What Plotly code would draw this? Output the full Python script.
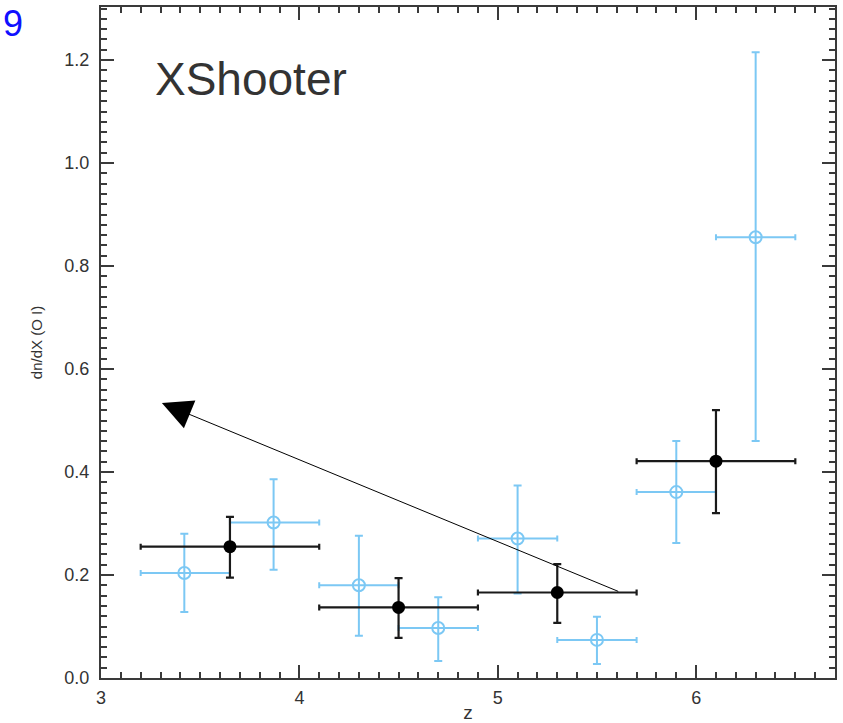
import plotly.graph_objects as go

# Binned measurements (filled black): redshift bin centres, bin edges, dn/dX and its 1-sigma range
bin_z = [3.65, 4.5, 5.3, 6.1]
bin_z_lo = [3.2, 4.1, 4.9, 5.7]
bin_z_hi = [4.1, 4.9, 5.7, 6.5]
bin_dndx = [0.255, 0.137, 0.166, 0.421]
bin_dndx_hi = [0.313, 0.194, 0.221, 0.520]
bin_dndx_lo = [0.195, 0.078, 0.107, 0.320]

# Finer bins (open light-blue circles)
fine_z = [3.42, 3.87, 4.3, 4.7, 5.1, 5.5, 5.9, 6.3]
fine_z_lo = [3.2, 3.65, 4.1, 4.5, 4.9, 5.3, 5.7, 6.1]
fine_z_hi = [3.65, 4.1, 4.5, 4.9, 5.3, 5.7, 6.1, 6.5]
fine_dndx = [0.204, 0.302, 0.180, 0.097, 0.271, 0.074, 0.361, 0.856]
fine_dndx_hi = [0.280, 0.386, 0.276, 0.157, 0.374, 0.119, 0.460, 1.215]
fine_dndx_lo = [0.128, 0.210, 0.082, 0.033, 0.164, 0.027, 0.262, 0.460]

# Arrow (tail -> head) in data coordinates
arrow_tail = (5.615, 0.167)
arrow_head = (3.307, 0.534)

x_ticks = [3, 4, 5, 6]
y_ticks = [0.0, 0.2, 0.4, 0.6, 0.8, 1.0, 1.2]

BLUE = "#7cc8f4"
AXIS = "#3a3a3a"
TEXT = "#333333"
FONT = "Liberation Sans, Arial, sans-serif"

# plot-area geometry in pixels
L, R, T, B = 101, 8, 7, 45
W, H = 843, 723
PW, PH = W - L - R, H - T - B


def spans(c, lo, hi):
    return [h - v for v, h in zip(c, hi)], [v - l for v, l in zip(c, lo)]


fig = go.Figure()

fx_p, fx_m = spans(fine_z, fine_z_lo, fine_z_hi)
fy_p, fy_m = spans(fine_dndx, fine_dndx_lo, fine_dndx_hi)
fig.add_trace(go.Scatter(
    x=fine_z, y=fine_dndx, mode="markers",
    marker=dict(symbol="circle-open", size=12, color=BLUE, line=dict(width=2, color=BLUE)),
    error_x=dict(type="data", array=fx_p, arrayminus=fx_m, color=BLUE, thickness=2, width=3),
    error_y=dict(type="data", array=fy_p, arrayminus=fy_m, color=BLUE, thickness=2, width=4),
    showlegend=False,
))

bx_p, bx_m = spans(bin_z, bin_z_lo, bin_z_hi)
by_p, by_m = spans(bin_dndx, bin_dndx_lo, bin_dndx_hi)
fig.add_trace(go.Scatter(
    x=bin_z, y=bin_dndx, mode="markers",
    marker=dict(symbol="circle", size=13, color="black"),
    error_x=dict(type="data", array=bx_p, arrayminus=bx_m, color="#1a1a1a", thickness=2.2, width=3),
    error_y=dict(type="data", array=by_p, arrayminus=by_m, color="#1a1a1a", thickness=2.2, width=4),
    showlegend=False,
))

fig.add_annotation(
    x=arrow_head[0], y=arrow_head[1], ax=arrow_tail[0], ay=arrow_tail[1],
    xref="x", yref="y", axref="x", ayref="y", text="",
    showarrow=True, arrowhead=2, arrowsize=6, arrowwidth=1, arrowcolor="black", standoff=0,
)

fig.add_annotation(
    x=(153 - L) / PW, y=(H - B - 79) / PH, xref="x domain", yref="y domain",
    text="XShooter", showarrow=False, xanchor="left", yanchor="middle",
    font=dict(family=FONT, size=46, color=TEXT),
)

# panel number in the top-left corner of the figure
fig.add_annotation(
    x=(1 - L) / PW, y=(H - B - 1) / PH, xref="paper", yref="paper",
    text="9", showarrow=False, xanchor="left", yanchor="top",
    font=dict(family=FONT, size=36, color="#1010ff"),
)

axis_common = dict(
    showline=True, linecolor=AXIS, linewidth=2, mirror="allticks",
    ticks="inside", ticklen=13, tickwidth=2, tickcolor=AXIS,
    showgrid=False, zeroline=False, automargin=False,
    tickfont=dict(family=FONT, size=18, color=TEXT),
)

fig.update_xaxes(
    range=[3, 6.7], tickvals=x_ticks, ticktext=[str(v) for v in x_ticks],
    minor=dict(dtick=0.1, tick0=3, ticks="inside", ticklen=6, tickwidth=2, tickcolor=AXIS, showgrid=False),
    ticklabelstandoff=2,
    title=dict(text="z", font=dict(family=FONT, size=19, color=TEXT), standoff=0),
    **axis_common,
)
fig.update_yaxes(
    range=[0, 1.303], tickvals=y_ticks, ticktext=[f"{v:.1f}" for v in y_ticks],
    minor=dict(dtick=0.02, tick0=0, ticks="inside", ticklen=6, tickwidth=2, tickcolor=AXIS, showgrid=False),
    ticklabelstandoff=6,
    title=dict(text="dn/dX (O I)", font=dict(family=FONT, size=15, color=TEXT), standoff=18),
    **axis_common,
)

fig.update_layout(
    width=W, height=H,
    margin=dict(l=L, r=R, t=T, b=B),
    plot_bgcolor="white", paper_bgcolor="white",
)

fig.write_html("out.html")
